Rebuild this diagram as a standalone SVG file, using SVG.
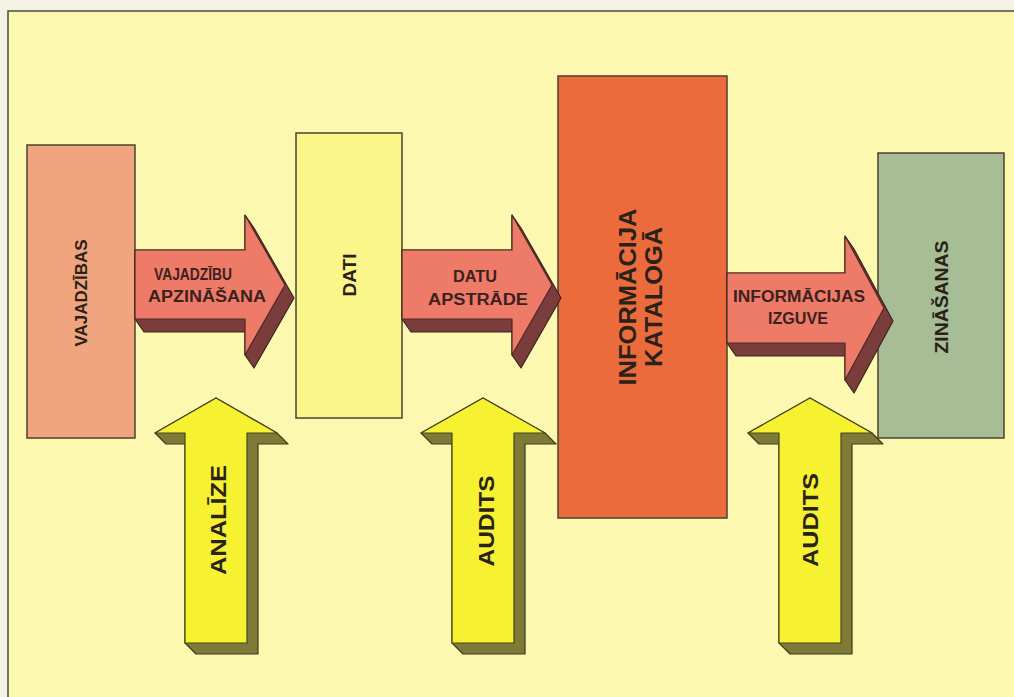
<svg xmlns="http://www.w3.org/2000/svg" width="1014" height="697" viewBox="0 0 1014 697">
<style>
.box{stroke:#4d4230;stroke-width:1.5}
.rf{fill:#ee7a68;stroke:#4a2a24;stroke-width:1.2;stroke-linejoin:round}
.rd{fill:#7a3d3c;stroke:#3e2220;stroke-width:1.2;stroke-linejoin:round}
.yf{fill:#f6f232;stroke:#4a4420;stroke-width:1.2;stroke-linejoin:round}
.yd{fill:#7e7a38;stroke:#3e3a1a;stroke-width:1.2;stroke-linejoin:round}
text{font-family:"Liberation Sans",Arial,sans-serif;font-weight:bold;fill:#2a2218;text-anchor:middle}
.at{font-size:16px;fill:#3b2220}
</style>
<rect x="0" y="0" width="1014" height="697" fill="#f4f2e4"/>
<rect x="8" y="11" width="1012" height="692" fill="#fcf8b0" stroke="#4a4a40" stroke-width="1.5"/>

<g id="vajadzibas">
<rect class="box" x="27" y="145" width="108" height="293" fill="#f0a57e"/>
<text transform="translate(87,293) rotate(-90)" font-size="16" textLength="107" lengthAdjust="spacingAndGlyphs">VAJADZĪBAS</text>
</g>
<g id="dati">
<rect class="box" x="296" y="133" width="106" height="285" fill="#fbf68a"/>
<text transform="translate(356,275) rotate(-90)" font-size="18" textLength="43" lengthAdjust="spacingAndGlyphs">DATI</text>
</g>
<g id="informacija">
<rect class="box" x="558" y="76" width="169" height="442" fill="#ec6b3d"/>
<text transform="translate(636,297) rotate(-90)" font-size="24" textLength="177" lengthAdjust="spacingAndGlyphs">INFORMĀCIJA</text>
<text transform="translate(662,297) rotate(-90)" font-size="24" textLength="140" lengthAdjust="spacingAndGlyphs">KATALOGĀ</text>
</g>
<g id="zinasanas">
<rect class="box" x="878" y="153" width="126" height="285" fill="#a6bd96"/>
<text transform="translate(948,297) rotate(-90)" font-size="19" textLength="113" lengthAdjust="spacingAndGlyphs">ZINĀŠANAS</text>
</g>

<g id="connectors">
<g id="arrow-vajadzibu">
<path class="rd" d="M135,250 L245,250 L245,215 L254,228 L294,298 L254,368 L245,355 L245,332 L144,332 L135,319 Z"/>
<path class="rf" d="M135,250 L245,250 L245,215 L285,285 L245,355 L245,319 L135,319 Z"/>
<text class="at" x="193" y="280" textLength="78" lengthAdjust="spacingAndGlyphs">VAJADZĪBU</text>
<text class="at" x="207" y="302" textLength="118" lengthAdjust="spacingAndGlyphs">APZINĀŠANA</text>
</g>
<g id="arrow-datu">
<path class="rd" d="M402,250 L512,250 L512,215 L521,228 L561,298 L521,368 L512,355 L512,332 L411,332 L402,319 Z"/>
<path class="rf" d="M402,250 L512,250 L512,215 L552,285 L512,355 L512,319 L402,319 Z"/>
<text class="at" x="475" y="282" textLength="44" lengthAdjust="spacingAndGlyphs">DATU</text>
<text class="at" x="478" y="305" textLength="100" lengthAdjust="spacingAndGlyphs">APSTRĀDE</text>
</g>
<g id="arrow-izguve">
<path class="rd" d="M727,273 L845,273 L845,236 L854,249 L893,321 L854,393 L845,380 L845,356 L736,356 L727,343 Z"/>
<path class="rf" d="M727,273 L845,273 L845,236 L884,308 L845,380 L845,343 L727,343 Z"/>
<text class="at" x="799" y="302" textLength="132" lengthAdjust="spacingAndGlyphs">INFORMĀCIJAS</text>
<text class="at" x="798" y="324" textLength="60" lengthAdjust="spacingAndGlyphs">IZGUVE</text>
</g>
<g id="arrow-analize">
<path class="yd" d="M216,398 L277,433 L288,444 L258,444 L258,654 L196,654 L185,643 L185,444 L166,444 L155,433 Z"/>
<path class="yf" d="M216,398 L277,433 L247,433 L247,643 L185,643 L185,433 L155,433 Z"/>
<text transform="translate(226,520) rotate(-90)" font-size="22" textLength="110" lengthAdjust="spacingAndGlyphs">ANALĪZE</text>
</g>
<g id="arrow-audits-1">
<path class="yd" d="M483,398 L545,433 L556,444 L525,444 L525,654 L463,654 L452,643 L452,444 L432,444 L421,433 Z"/>
<path class="yf" d="M483,398 L545,433 L514,433 L514,643 L452,643 L452,433 L421,433 Z"/>
<text transform="translate(494,521) rotate(-90)" font-size="22" textLength="91" lengthAdjust="spacingAndGlyphs">AUDITS</text>
</g>
<g id="arrow-audits-2">
<path class="yd" d="M810,398 L872,433 L883,444 L852,444 L852,654 L790,654 L779,643 L779,444 L759,444 L748,433 Z"/>
<path class="yf" d="M810,398 L872,433 L841,433 L841,643 L779,643 L779,433 L748,433 Z"/>
<text transform="translate(818,520) rotate(-90)" font-size="22" textLength="94" lengthAdjust="spacingAndGlyphs">AUDITS</text>
</g>
</g>
</svg>
